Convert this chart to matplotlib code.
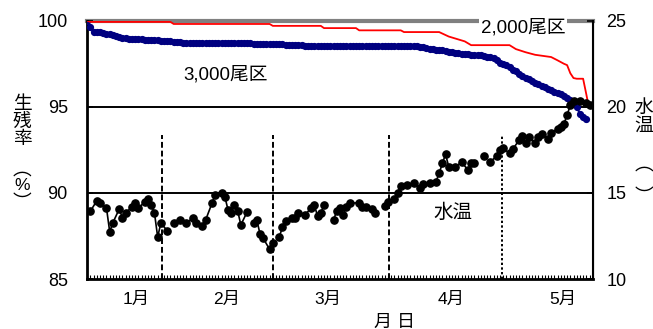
import numpy as np
import matplotlib
matplotlib.use("Agg")
import matplotlib.pyplot as plt

plt.rcParams['font.family'] = ['Liberation Sans', 'Noto Sans CJK JP', 'DejaVu Sans']

# ---- data -------------------------------------------------------------
# days counted from the start of rearing
month_labels = ["1月", "2月", "3月", "4月", "5月"]
month_label_days = [15.2, 43.7, 75.2, 113.7, 148.7]
sampling_days = [23.2, 58.1, 94.3, 129.8]

# survival (%) in the 2,000-fish tank
red_days = [0, 1, 26, 27, 57, 58, 73, 74, 84, 85, 98, 99, 110, 113, 118, 120,
            132, 134, 137, 140, 145, 147, 149, 150, 151, 152, 153, 155, 156, 156.6]
red_vals = [100.0, 99.93, 99.93, 99.81, 99.81, 99.70, 99.70, 99.57, 99.57, 99.44,
            99.44, 99.34, 99.34, 99.08, 98.80, 98.58, 98.58, 98.35, 98.17, 98.02,
            97.89, 97.70, 97.50, 97.42, 96.95, 96.67, 96.63, 96.63, 95.73, 95.17]

# survival (%) in the 3,000-fish tank, one value per day
blue_vals = [
    100.0, 99.65, 99.37, 99.35, 99.33, 99.30, 99.25, 99.20, 99.15, 99.10,
    99.05, 99.00, 98.97, 98.95, 98.93, 98.92, 98.92, 98.91, 98.90, 98.90,
    98.90, 98.88, 98.87, 98.85, 98.83, 98.82, 98.80, 98.78, 98.77, 98.75,
    98.73, 98.73, 98.73, 98.73, 98.73, 98.73, 98.73, 98.73, 98.73, 98.73,
    98.73, 98.73, 98.73, 98.73, 98.73, 98.73, 98.73, 98.73, 98.73, 98.73,
    98.73, 98.73, 98.65, 98.65, 98.65, 98.65, 98.65, 98.65, 98.65, 98.65,
    98.65, 98.65, 98.60, 98.60, 98.60, 98.60, 98.60, 98.60, 98.51, 98.51,
    98.51, 98.51, 98.51, 98.51, 98.51, 98.51, 98.51, 98.51, 98.51, 98.51,
    98.51, 98.51, 98.51, 98.51, 98.51, 98.51, 98.51, 98.51, 98.51, 98.51,
    98.51, 98.51, 98.51, 98.51, 98.51, 98.51, 98.51, 98.51, 98.51, 98.51,
    98.51, 98.51, 98.51, 98.51, 98.50, 98.45, 98.40, 98.38, 98.35, 98.32,
    98.30, 98.27, 98.23, 98.20, 98.17, 98.13, 98.10, 98.08, 98.06, 98.05,
    98.03, 98.02, 98.00, 97.98, 97.95, 97.92, 97.90, 97.85, 97.70, 97.55,
    97.48, 97.40, 97.30, 97.15, 97.05, 96.90, 96.80, 96.70, 96.60, 96.50,
    96.40, 96.30, 96.22, 96.15, 96.05, 95.95, 95.85, 95.78, 95.72, 95.60,
    95.50, 95.40, 95.20, 95.00, 94.60, 94.40, 94.30,
]
blue_days = np.arange(len(blue_vals))

# water temperature (deg C); NaN marks days without a reading
nan = np.nan
temp_days = [1, 3, 4, 6, 7, 8, 10, 11, 12, 14, 15, 16, 18, 19, 20, 21, 22, 23, 25, nan,
             27, 29, 31, 33, 34, 36, 37, 39, 40, 42, 43, 44, 45, 46, 47, 48, 50, nan,
             52, 53, 54, 55, 57, 58, nan,
             60, 61, 62, 64, 65, 66, nan,
             68, 70, 71, 72, 73, 74, nan,
             77, 78, 79, 80, 81, 82, 85, 86, 87, 89, 90, nan,
             93, 94, 96, 97, 98, 100, 102, 104, 105, 107, 109, 110, 111, 112, 113,
             115, 117, 119, 120, 121, nan, 124, nan,
             126, 128, 129, 130, 132, 133, 135, 136, 137, 138, 140, 141, 142, 144,
             145, 147, 148, 149, 150, 151, 152, 154, nan, 156, 157]
temp_vals = [13.95, 14.55, 14.41, 14.12, 12.75, 13.27, 14.07, 13.54, 13.83, 14.20,
             14.41, 14.12, 14.49, 14.63, 14.30, 13.83, 12.44, 13.25, 12.80, nan,
             13.25, 13.43, 13.25, 13.54, 13.25, 13.10, 13.43, 14.41, 14.88, 15.01,
             14.78, 14.01, 13.82, 14.30, 13.97, 13.14, 13.91, nan,
             13.23, 13.43, 12.61, 12.36, 11.72, 12.07, nan,
             12.42, 13.02, 13.37, 13.52, 13.52, 13.86, nan,
             13.72, 14.12, 14.30, 13.63, 13.83, 14.27, nan,
             13.43, 13.97, 14.14, 13.72, 14.20, 14.40, 14.43, 14.16, 14.20, 14.05,
             13.85, nan,
             14.26, 14.49, 14.63, 14.98, 15.40, 15.46, 15.56, 15.27, 15.52, 15.59,
             15.65, 16.14, 16.72, 17.24, 16.52,
             16.49, 16.79, 16.33, 16.72, 16.75, nan, 17.14, nan,
             16.81, 17.14, 17.49, 17.59, 17.30, 17.53, 18.07, 18.30, 17.88, 18.23,
             17.88, 18.23, 18.42, 18.11,
             18.50, 18.69, 18.84, 19.00, 19.52, 20.10, 20.35, 20.35, nan, 20.20, 20.10]

# ---- figure -----------------------------------------------------------
W, H = 653, 329
fig = plt.figure(figsize=(W / 100, H / 100), dpi=100)
x0, x1, ytop, ybot = 87.3, 592.7, 20.7, 279.0
ax = fig.add_axes([x0 / W, (H - ybot) / H, (x1 - x0) / W, (ybot - ytop) / H])
ax2 = ax.twinx()

ax.set_xlim(0, 158)
ax.set_ylim(85, 100)
ax2.set_ylim(10, 25)

# reference lines
ax.axhline(95, color="black", lw=1.4, zorder=1)
ax.axhline(90, color="black", lw=1.4, zorder=1)
ax.axhline(100, color="#808080", lw=3, zorder=1, clip_on=False)

for i, d in enumerate(sampling_days):
    ls = (0, (1.2, 1.2)) if i == len(sampling_days) - 1 else (0, (3, 1.5))
    ax.plot([d, d], [85, 93.35], color="black", lw=1.4, ls=ls, zorder=2)

# survival curves
ax.plot(red_days, red_vals, color="#ff0000", lw=1.3, zorder=4)
ax.plot(blue_days, blue_vals, color="#000080", lw=1.5, marker="o", ms=4.2,
        mec="#000080", mfc="#000080", zorder=3)

# water temperature
ax2.plot(temp_days, temp_vals, color="black", lw=1.2, marker="o", ms=5.2,
         zorder=5)

# axes styling
for s in ["left", "bottom"]:
    ax.spines[s].set_linewidth(2)
ax.spines["top"].set_visible(False)
ax2.spines["top"].set_visible(False)
ax2.spines["right"].set_linewidth(1.5)
ax2.spines["left"].set_visible(False)
ax2.spines["bottom"].set_visible(False)

ax.set_yticks([85, 90, 95, 100])
ax.set_yticklabels(["85", "90", "95", "100"])
ax2.set_yticks([10, 15, 20, 25])
ax.tick_params(axis="y", direction="in", length=4, width=1.2, labelsize=13, pad=14)
ax2.tick_params(axis="y", direction="in", length=4, width=1.2, labelsize=13, pad=10)

ax.set_xticks(month_label_days)
ax.set_xticklabels(month_labels)
ax.tick_params(axis="x", length=0, labelsize=12.5, pad=9)
ax.set_xticks(np.arange(0, 158, 1), minor=True)
ax.tick_params(axis="x", which="minor", direction="in", length=3, width=0.8)

# text labels
fig.text(226 / W, 1 - 75 / H, "3,000尾区", fontsize=13.5, ha="center", va="center")
fig.text(523 / W, 1 - 28 / H, "2,000尾区", fontsize=13.5, ha="center", va="center",
         bbox=dict(facecolor="white", edgecolor="none", pad=1.5), zorder=10)
fig.text(453 / W, 1 - 213 / H, "水温", fontsize=14, ha="center", va="center")
fig.text(394 / W, 1 - 322 / H, "月 日", fontsize=13, ha="center", va="center")

fig.text(22 / W, 1 - 122 / H, "生\n残\n率", fontsize=13.5, ha="center", va="center",
         linespacing=1.05)
fig.text(22 / W, 1 - 170 / H, "︵", fontsize=13.5, ha="center", va="center")
fig.text(22 / W, 1 - 185 / H, "%", fontsize=12.5, ha="center", va="center")
fig.text(22 / W, 1 - 203 / H, "︶", fontsize=13.5, ha="center", va="center")

fig.text(644 / W, 1 - 117 / H, "水\n温", fontsize=13.5, ha="center", va="center",
         linespacing=1.05)
fig.text(644 / W, 1 - 165 / H, "︵", fontsize=13.5, ha="center", va="center")
fig.text(644 / W, 1 - 197 / H, "︶", fontsize=13.5, ha="center", va="center")

fig.savefig("out.png", dpi=100)
